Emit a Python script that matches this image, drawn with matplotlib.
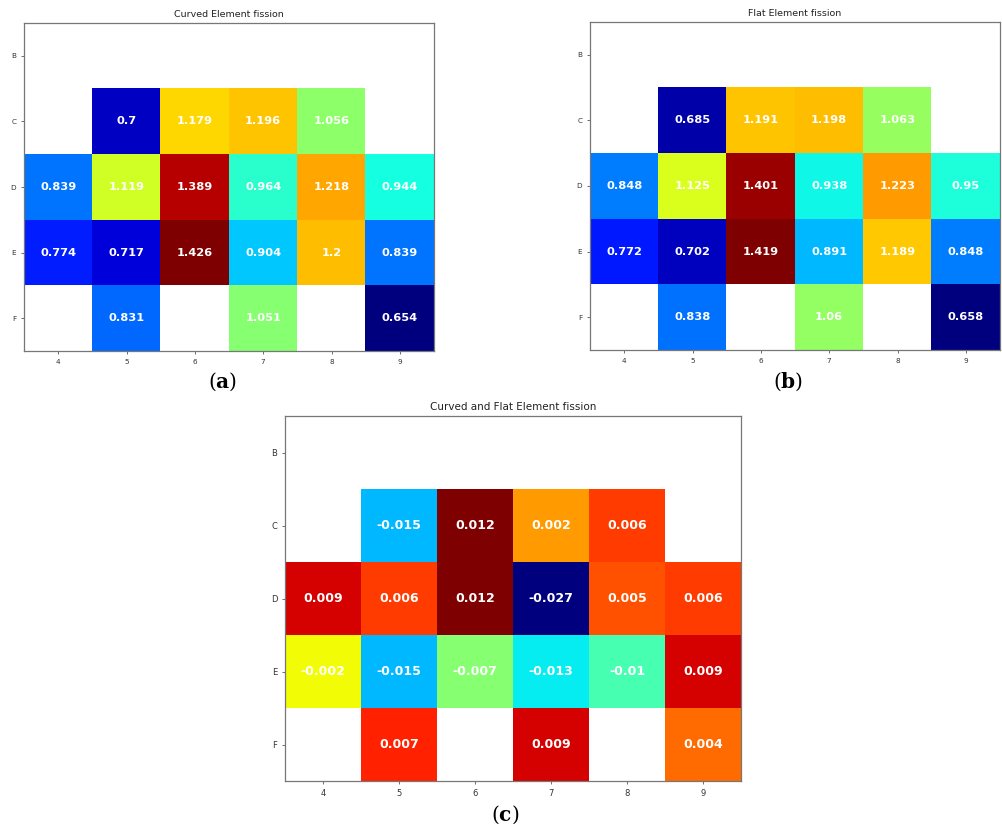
import numpy as np
import matplotlib
matplotlib.use("Agg")
import matplotlib.pyplot as plt

rows = ["B", "C", "D", "E", "F"]
cols = ["4", "5", "6", "7", "8", "9"]
nan = np.nan

curved = [
    [nan, nan, nan, nan, nan, nan],
    [nan, 0.7, 1.179, 1.196, 1.056, nan],
    [0.839, 1.119, 1.389, 0.964, 1.218, 0.944],
    [0.774, 0.717, 1.426, 0.904, 1.2, 0.839],
    [nan, 0.831, nan, 1.051, nan, 0.654],
]
flat = [
    [nan, nan, nan, nan, nan, nan],
    [nan, 0.685, 1.191, 1.198, 1.063, nan],
    [0.848, 1.125, 1.401, 0.938, 1.223, 0.95],
    [0.772, 0.702, 1.419, 0.891, 1.189, 0.848],
    [nan, 0.838, nan, 1.06, nan, 0.658],
]
diff = [
    [nan, nan, nan, nan, nan, nan],
    [nan, -0.015, 0.012, 0.002, 0.006, nan],
    [0.009, 0.006, 0.012, -0.027, 0.005, 0.006],
    [-0.002, -0.015, -0.007, -0.013, -0.01, 0.009],
    [nan, 0.007, nan, 0.009, nan, 0.004],
]

W, H = 1002, 827
fig = plt.figure(figsize=(W / 100, H / 100), dpi=100)


def px_axes(l, t, r, b):
    return fig.add_axes([l / W, 1 - b / H, (r - l) / W, (b - t) / H])


def heat(ax, data, title, tsize, ticksize, valsize):
    arr = np.ma.masked_invalid(np.array(data, dtype=float))
    ax.imshow(arr, cmap="jet", aspect="auto", interpolation="nearest")
    ax.set_xticks(range(len(cols)))
    ax.set_xticklabels(cols, fontsize=ticksize, color="#333333")
    ax.set_yticks(range(len(rows)))
    ax.set_yticklabels(rows, fontsize=ticksize, color="#333333")
    ax.tick_params(length=2.5, width=0.6, color="#555555", pad=3)
    for s in ax.spines.values():
        s.set_color("#777777")
        s.set_linewidth(0.9)
    ax.set_title(title, fontsize=tsize, color="#222222", pad=4)
    for i in range(len(rows)):
        for j in range(len(cols)):
            v = data[i][j]
            if not np.isnan(v):
                ax.text(j, i, f"{v:g}", ha="center", va="center",
                        color="white", fontsize=valsize, fontweight="bold")


ax_a = px_axes(24, 23, 434, 351)
heat(ax_a, curved, "Curved Element fission", 6.8, 5.2, 8.2)
ax_b = px_axes(590, 22, 1000, 350)
heat(ax_b, flat, "Flat Element fission", 6.8, 5.2, 8.2)
ax_c = px_axes(285, 416, 741, 781)
heat(ax_c, diff, "Curved and Flat Element fission", 7.5, 6.0, 9.0)

for x, y, letter in [(223, 382, "a"), (788, 382, "b"), (505, 815, "c")]:
    fig.text(x / W, 1 - y / H, r"($\mathbf{" + letter + r"}$)",
             ha="center", va="center", fontsize=14.5,
             family="DejaVu Serif", math_fontfamily="dejavuserif")

fig.savefig("out.png", dpi=100)
